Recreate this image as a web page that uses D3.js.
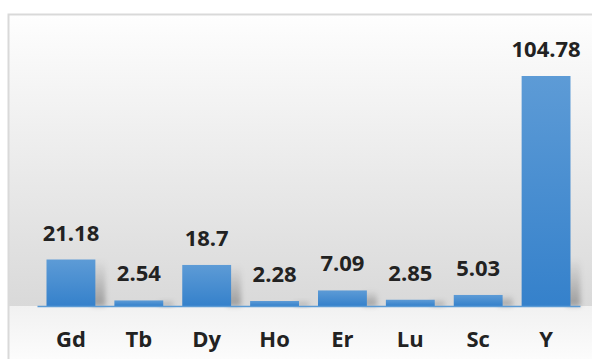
<!DOCTYPE html>
<html><head><meta charset="utf-8">
<script src="https://cdn.jsdelivr.net/npm/d3@7"></script>
<style>html,body{margin:0;padding:0;background:#fff;}svg{display:block;}</style>
</head><body>
<script>
const categories = ["Gd","Tb","Dy","Ho","Er","Lu","Sc","Y"];
const values = [21.18, 2.54, 18.7, 2.28, 7.09, 2.85, 5.03, 104.78];
const valueLabels = ["21.18","2.54","18.7","2.28","7.09","2.85","5.03","104.78"];

const W = 592, H = 359;
const svg = d3.select("body").append("svg").attr("width", W).attr("height", H);
const defs = svg.append("defs");

const bgTop = defs.append("linearGradient").attr("id","bgTop").attr("x1",0).attr("y1",0).attr("x2",0).attr("y2",1);
bgTop.append("stop").attr("offset","0%").attr("stop-color","#fefefe");
bgTop.append("stop").attr("offset","35%").attr("stop-color","#f1f1f1");
bgTop.append("stop").attr("offset","100%").attr("stop-color","#d9d9d9");
const bgBot = defs.append("linearGradient").attr("id","bgBot").attr("x1",0).attr("y1",0).attr("x2",0).attr("y2",1);
bgBot.append("stop").attr("offset","0%").attr("stop-color","#f1f1f1");
bgBot.append("stop").attr("offset","100%").attr("stop-color","#fdfdfd");

const barGrad = defs.append("linearGradient").attr("id","barGrad").attr("x1",0).attr("y1",0).attr("x2",0).attr("y2",1);
barGrad.append("stop").attr("offset","0%").attr("stop-color","#5d9bd6");
barGrad.append("stop").attr("offset","100%").attr("stop-color","#3581cb");

const shGrad = defs.append("linearGradient").attr("id","shGrad").attr("x1",0).attr("y1",0).attr("x2",0).attr("y2",1);
shGrad.append("stop").attr("offset","0%").attr("stop-color","#000").attr("stop-opacity",0);
shGrad.append("stop").attr("offset","100%").attr("stop-color","#000").attr("stop-opacity",0.28);
defs.append("filter").attr("id","blur").attr("x","-50%").attr("y","-50%").attr("width","200%").attr("height","200%")
  .append("feGaussianBlur").attr("stdDeviation",2.5);

const boxX = 8, boxY = 14;
const baseY = 306;
svg.append("rect").attr("x",boxX).attr("y",boxY).attr("width",W-boxX+5).attr("height",baseY-boxY).attr("fill","url(#bgTop)");
svg.append("rect").attr("x",boxX).attr("y",baseY).attr("width",W-boxX+5).attr("height",H-baseY+5).attr("fill","url(#bgBot)");
svg.append("rect").attr("x",boxX+0.5).attr("y",boxY+0.5).attr("width",W).attr("height",H)
  .attr("fill","none").attr("stroke","#d9d9d9").attr("stroke-width",2);

const x = d3.scaleBand().domain(categories).range([37, 580]).paddingInner(0.28).paddingOuter(0.14);
const y = d3.scaleLinear().domain([0, 104.78]).range([baseY, 76]);

const data = categories.map((c,i)=>({c, v: values[i], l: valueLabels[i]}));

svg.append("g").selectAll("rect").data(data).join("rect")
  .attr("x", d => x(d.c) + x.bandwidth() - 4)
  .attr("y", d => baseY - Math.min(baseY - y(d.v), 48))
  .attr("width", 14)
  .attr("height", d => Math.min(baseY - y(d.v), 48))
  .attr("fill","url(#shGrad)")
  .attr("filter","url(#blur)");

svg.append("g").selectAll("rect").data(data).join("rect")
  .attr("x", d => x(d.c))
  .attr("y", d => y(d.v))
  .attr("width", x.bandwidth())
  .attr("height", d => baseY - y(d.v))
  .attr("fill","url(#barGrad)");

const axis = svg.append("g").attr("transform",`translate(0,${baseY})`)
  .call(d3.axisBottom(x).tickSize(0).tickPadding(0));
axis.select(".domain").attr("stroke","#5b9bd5").attr("stroke-width",1.5);
axis.selectAll("text").remove();

const font = "'Open Sans', sans-serif";
svg.append("g").selectAll("text").data(data).join("text")
  .attr("x", d => x(d.c) + x.bandwidth()/2)
  .attr("y", 347)
  .attr("text-anchor","middle")
  .attr("font-family", font).attr("font-weight","bold").attr("font-size", 22)
  .attr("fill","#222222")
  .text(d => d.c);

svg.append("g").selectAll("text").data(data).join("text")
  .attr("x", d => x(d.c) + x.bandwidth()/2)
  .attr("y", d => y(d.v) - 19)
  .attr("text-anchor","middle")
  .attr("font-family", font).attr("font-weight","bold").attr("font-size", 22)
  .attr("fill","#222222")
  .text(d => d.l);
</script>
</body></html>
